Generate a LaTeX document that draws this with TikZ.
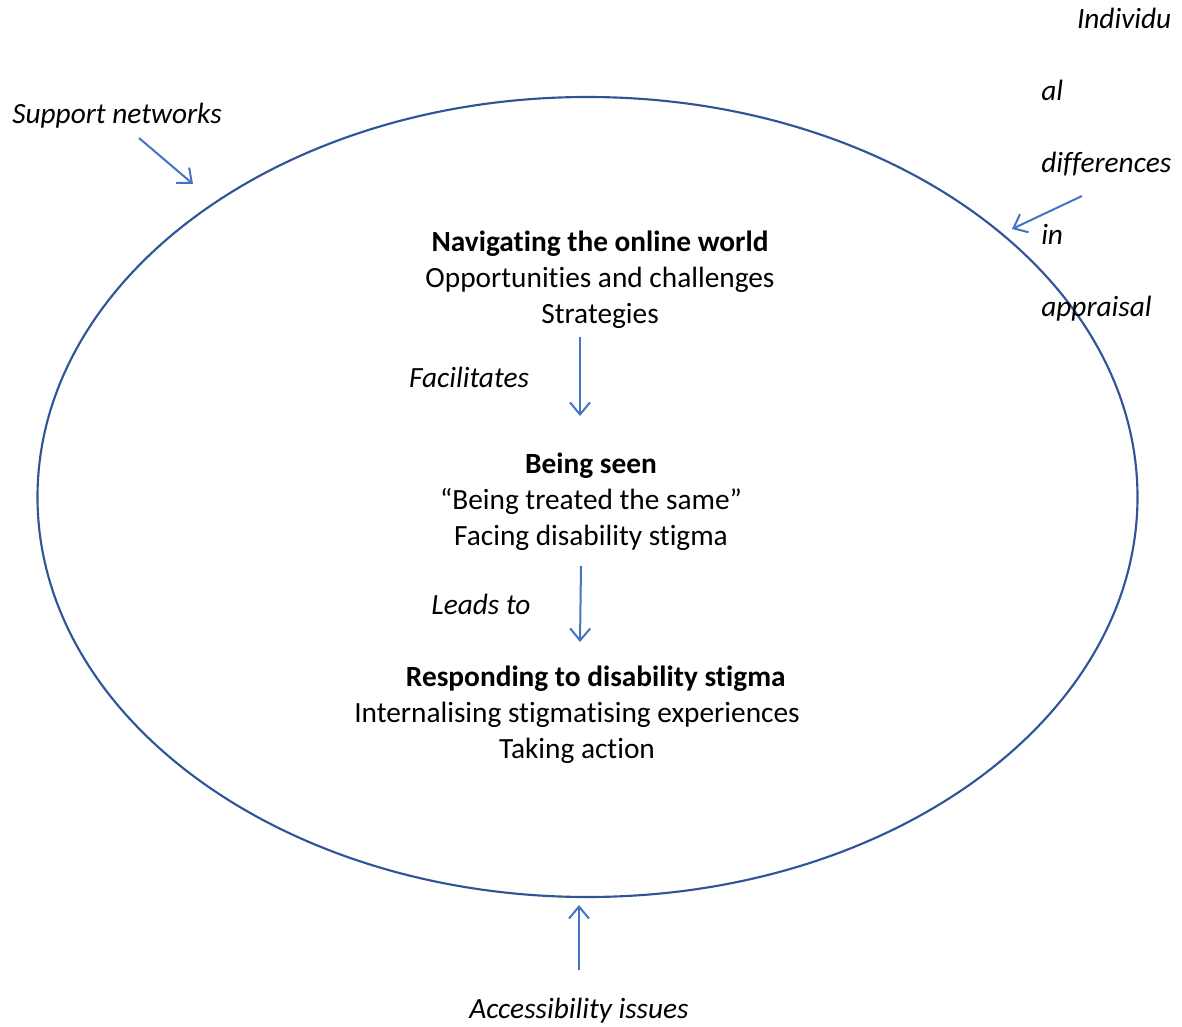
\documentclass[tikz,border=0pt]{standalone}
\usepackage{fontspec}
\setmainfont{Carlito}[Ligatures=NoCommon]
\usetikzlibrary{shapes.geometric, arrows.meta}
\definecolor{ringblue}{HTML}{2F5597}
\definecolor{arrowblue}{HTML}{4472C4}
\tikzset{
    >={Straight Barb[length=9pt, width=15pt]}, % open arrow heads
    arr/.style={->, draw=arrowblue, line width=1.5pt}, % the blue arrows
    stage/.style={align=center, inner sep=0pt, font=\fontsize{22pt}{27pt}\selectfont}, % the three stages
    cue/.style={inner sep=0pt, font=\fontsize{22pt}{27pt}\selectfont\itshape}, % italic labels
}
\begin{document}
\begin{tikzpicture}[
                        x=0.75pt, y=-0.75pt,
                        ring/.style={ellipse, draw=ringblue, line width=1.6pt, minimum width=825pt, minimum height=600pt, inner sep=0pt},
                    ]
                    \useasboundingbox (0,0) rectangle (1182,1027);
                    \node[ring] (ring) at (587.5,497) {};
                    \node[stage] (nav) at (600,280) {\textbf{Navigating the online world}\\Opportunities and challenges\\Strategies};
                    \node[stage] (seen) at (591,502) {\textbf{Being seen}\\“Being treated the same”\\Facing disability stigma};
                    \node[stage] (resp) at (577,715) {\hspace*{28pt}\textbf{Responding to disability stigma}\\Internalising stigmatising experiences\\Taking action};
                    \node[cue] (fac) at (469,377) {Facilitates};
                    \node[cue] (lead) at (481,604) {Leads to};
                    \node[cue] (supp) at (117,116) {Support networks};
                    \node[cue] (acc) at (579,1011) {Accessibility issues};
                    \node[cue, text width=97.5pt, align=left, anchor=north west] (indiv) at (1041,8)
                        {\hspace*{0pt plus 1fill}Individu\\[27pt]al\\[27pt]differences\\[27pt]in\\[27pt]appraisal};
                    \coordinate (f1) at (580,337);
                    \coordinate (f2) at (580,416);
                    \coordinate (l1) at (581,566);
                    \coordinate (l2) at (580,642);
                    \coordinate (s1) at (139,138);
                    \coordinate (s2) at (193,184);
                    \coordinate (i1) at (1082,196);
                    \coordinate (i2) at (1012,229);
                    \coordinate (a1) at (579,970);
                    \coordinate (a2) at (579,905);
                    \draw[arr] (f1) -- (f2);
                    \draw[arr] (l1) -- (l2);
                    \draw[arr] (s1) -- (s2);
                    \draw[arr] (i1) -- (i2);
                    \draw[arr] (a1) -- (a2);
                \end{tikzpicture}
\end{document}
